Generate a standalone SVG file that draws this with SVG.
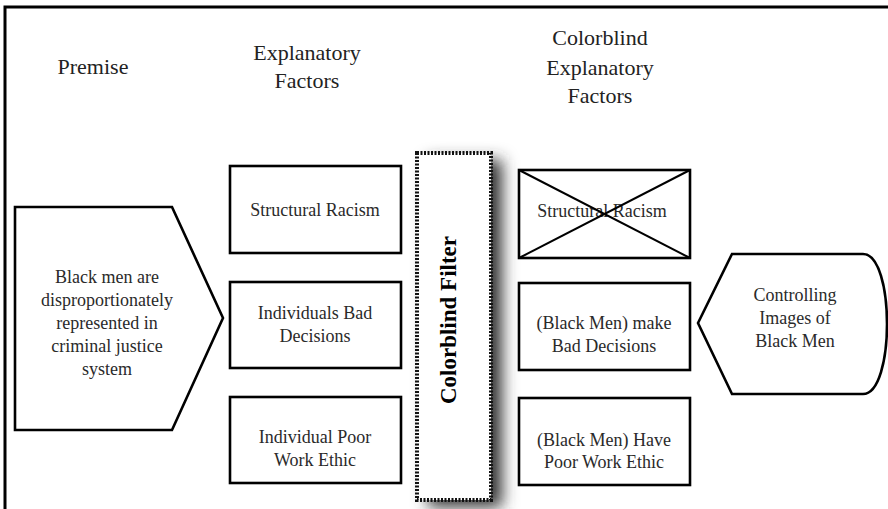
<svg xmlns="http://www.w3.org/2000/svg" width="888" height="509" viewBox="0 0 888 509">
<style>
.hdr{font-family:"Liberation Serif",serif;font-size:22px;fill:#222;text-anchor:middle}
.lbl{font-family:"Liberation Serif",serif;font-size:18px;fill:#2a2a2a;text-anchor:middle}
.shape{fill:#fff;stroke:#000;stroke-width:2.6}
.cross{stroke:#000;stroke-width:2}
</style>
<defs>
<filter id="sh" x="-100%" y="-20%" width="300%" height="140%">
<feGaussianBlur stdDeviation="8"/>
</filter>
</defs>
<rect width="888" height="509" fill="#fff"/>
<rect x="5" y="7" width="900" height="520" fill="none" stroke="#000" stroke-width="3"/>
<g id="headers">
<text class="hdr" x="93" y="74">Premise</text>
<text class="hdr" x="307" y="60">Explanatory</text>
<text class="hdr" x="307" y="88">Factors</text>
<text class="hdr" x="600" y="45">Colorblind</text>
<text class="hdr" x="600" y="75">Explanatory</text>
<text class="hdr" x="600" y="103">Factors</text>
</g>
<g id="premise">
<polygon class="shape" points="15,207 172,207 223,318 172,430 15,430"/>
<text class="lbl" x="107" y="283">Black men are</text>
<text class="lbl" x="107" y="306">disproportionately</text>
<text class="lbl" x="107" y="329">represented in</text>
<text class="lbl" x="107" y="352">criminal justice</text>
<text class="lbl" x="107" y="375">system</text>
</g>
<g id="filter">
<rect x="428" y="160" width="74" height="347" fill="#333" filter="url(#sh)"/>
<rect x="417" y="153" width="74" height="347" fill="#fff" stroke="#111" stroke-width="4" stroke-dasharray="2 1.5"/>
<text x="456" y="320" transform="rotate(-90 456 320)" font-family="Liberation Serif, serif" font-size="23" font-weight="bold" text-anchor="middle" fill="#000">Colorblind Filter</text>
</g>
<g id="ef1">
<rect class="shape" x="230" y="166" width="171" height="87"/>
<text class="lbl" x="315" y="216">Structural Racism</text>
</g>
<g id="ef2">
<rect class="shape" x="230" y="282" width="171" height="86"/>
<text class="lbl" x="315" y="319">Individuals Bad</text>
<text class="lbl" x="315" y="342">Decisions</text>
</g>
<g id="ef3">
<rect class="shape" x="230" y="397" width="171" height="86"/>
<text class="lbl" x="315" y="443">Individual Poor</text>
<text class="lbl" x="315" y="466">Work Ethic</text>
</g>
<g id="cf1">
<rect class="shape" x="519" y="170" width="171" height="88"/>
<text class="lbl" x="602" y="217">Structural Racism</text>
<line class="cross" x1="519" y1="170" x2="690" y2="258"/>
<line class="cross" x1="519" y1="258" x2="690" y2="170"/>
</g>
<g id="cf2">
<rect class="shape" x="519" y="283" width="171" height="87"/>
<text class="lbl" x="604" y="329">(Black Men) make</text>
<text class="lbl" x="604" y="352">Bad Decisions</text>
</g>
<g id="cf3">
<rect class="shape" x="519" y="398" width="171" height="87"/>
<text class="lbl" x="604" y="446">(Black Men) Have</text>
<text class="lbl" x="604" y="468">Poor Work Ethic</text>
</g>
<g id="controlling">
<path class="shape" d="M698,323 L732,254 L863,254 C895,254 895,394 863,394 L732,394 Z"/>
<text class="lbl" x="795" y="301">Controlling</text>
<text class="lbl" x="795" y="324">Images of</text>
<text class="lbl" x="795" y="347">Black Men</text>
</g>
<g id="connectors"></g>
</svg>
